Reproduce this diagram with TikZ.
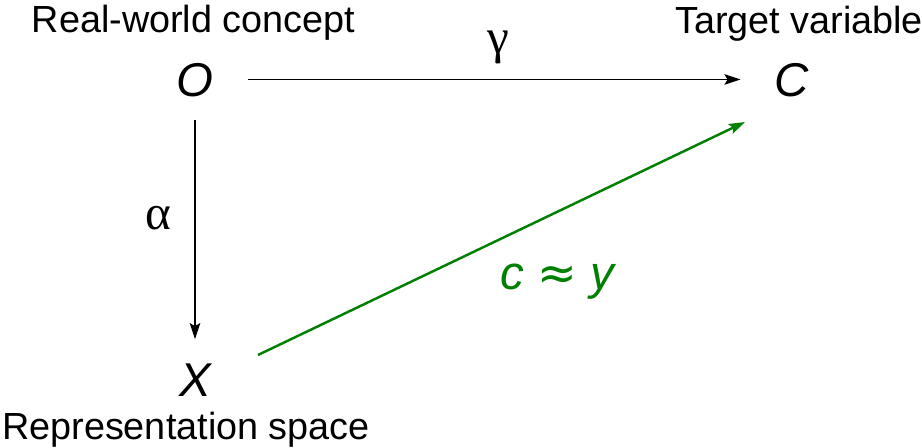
\documentclass[tikz,border=0pt]{standalone}
\usepackage{fontspec}
\setmainfont{Liberation Sans}
\newfontfamily\greekfont{Liberation Serif}
\newfontfamily\symfont{DejaVu Sans}
\usetikzlibrary{arrows.meta}
\begin{document}
\begin{tikzpicture}[
    var/.style={font=\fontsize{27}{32}\selectfont\itshape, text height=0.7cm, text depth=0cm, inner xsep=0.68cm, inner ysep=0.45cm},
    lbl/.style={font=\fontsize{21.5}{25}\selectfont, anchor=base},
    greek/.style={font=\fontsize{28}{32}\selectfont\greekfont, anchor=base},
    arr/.style={line width=1.1pt, -{Stealth[length=0.32cm,width=0.21cm,inset=0.06cm]}}]
            \useasboundingbox (0,0) rectangle (18.44,8.96);
            \node[var] (O) at (3.9,7.37) {O};
            \node[var] (C) at (15.84,7.37) {C};
            \node[var] (X) at (3.9,1.37) {X};
            \node[lbl] (concept) at (3.87,8.30) {Real-world concept};
            \node[lbl] (target) at (15.98,8.28) {Target variable};
            \node[lbl] (space) at (3.72,0.16) {Representation space};
            \draw[arr] (O.east) -- (C.west);
            \draw[arr] (O.south) -- (X.north);
            \draw[arr,green!50!black,line width=1.4pt] ([shift={(1.26,0.49)}]X.center) -- ([shift={(-0.94,-0.85)}]C.center);
            \node[greek] (gamma) at (9.96,7.88) {γ};
            \node[greek] (alpha) at (3.16,4.36) {α};
            \node[var,green!50!black,anchor=base,inner sep=0pt,text height=,text depth=] (approx) at (11.14,3.16) {c {\upshape\symfont ≈} y};
        \end{tikzpicture}
\end{document}
